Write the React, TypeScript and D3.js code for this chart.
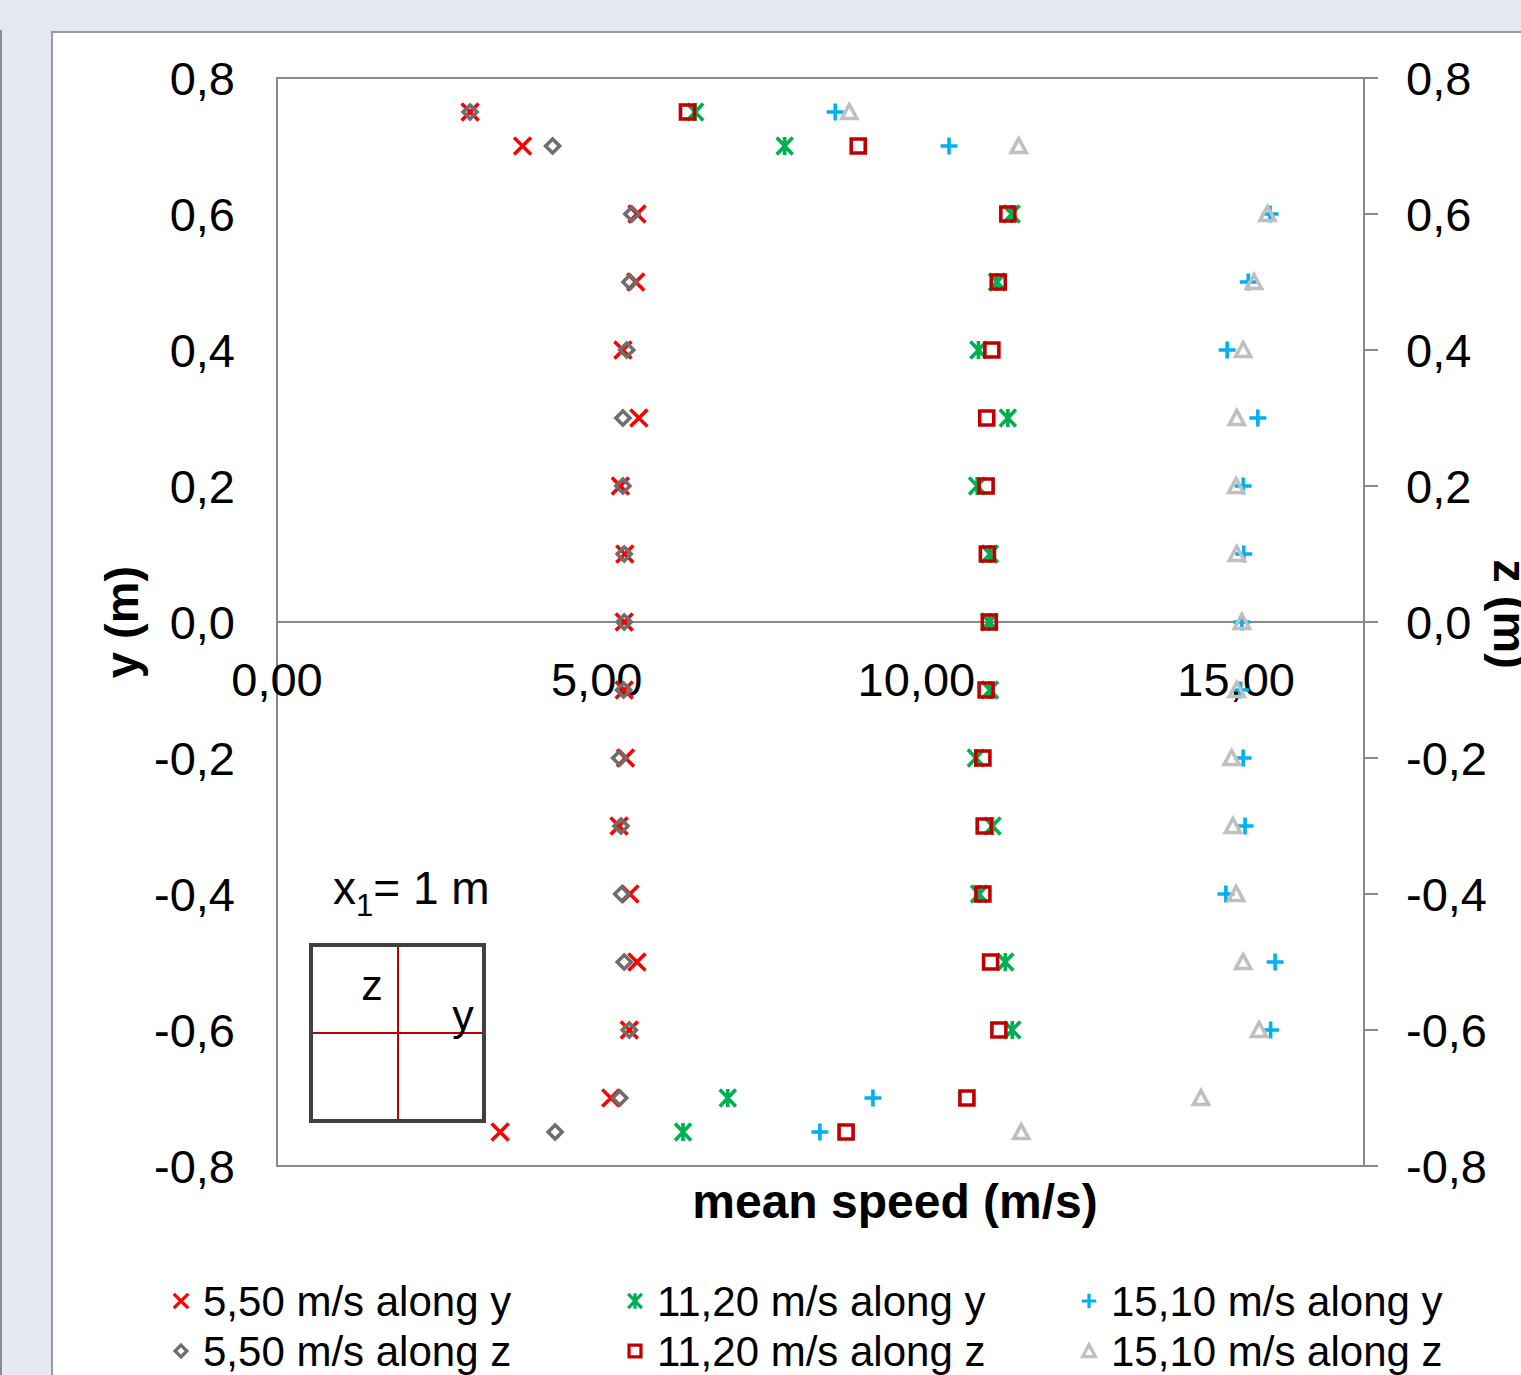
import React, { useEffect, useRef } from 'react';
import * as d3 from 'd3';

// heights of the measuring points (m)
const levels = [0.75, 0.7, 0.6, 0.5, 0.4, 0.3, 0.2, 0.1, 0, -0.1, -0.2, -0.3, -0.4, -0.5, -0.6, -0.7, -0.75];

// mean speed (m/s) at each level
const v550y = [3.02, 3.84, 5.63, 5.61, 5.41, 5.66, 5.37, 5.44, 5.43, 5.43, 5.45, 5.35, 5.52, 5.63, 5.51, 5.22, 3.49];
const v1120y = [6.54, 7.94, 11.49, 11.26, 10.97, 11.43, 10.95, 11.15, 11.14, 11.15, 10.93, 11.19, 10.98, 11.39, 11.5, 7.05, 6.35];
const v1510y = [8.73, 10.51, 15.53, 15.19, 14.86, 15.34, 15.11, 15.12, 15.09, 15.07, 15.11, 15.14, 14.84, 15.61, 15.54, 9.32, 8.49];
const v550z = [3.02, 4.31, 5.55, 5.52, 5.47, 5.41, 5.41, 5.43, 5.43, 5.42, 5.36, 5.38, 5.39, 5.43, 5.51, 5.36, 4.35];
const v1120z = [6.42, 9.09, 11.43, 11.28, 11.18, 11.1, 11.09, 11.11, 11.14, 11.09, 11.04, 11.06, 11.04, 11.16, 11.29, 10.79, 8.9];
const v1510z = [8.95, 11.6, 15.49, 15.28, 15.11, 15.01, 15.0, 15.01, 15.09, 15.01, 14.93, 14.95, 15.0, 15.11, 15.36, 14.45, 11.64];

const xTicks = [0, 5, 10, 15];
const yTicks = [0.8, 0.6, 0.4, 0.2, 0, -0.2, -0.4, -0.6, -0.8];

const seriesNames = [
  '5,50 m/s along y',
  '11,20 m/s along y',
  '15,10 m/s along y',
  '5,50 m/s along z',
  '11,20 m/s along z',
  '15,10 m/s along z',
];

const FONT = "'Liberation Sans', Arial, sans-serif";

const shapes = {
  cross: 'M-8.5,-8.5L8.5,8.5M-8.5,8.5L8.5,-8.5',
  star: 'M-8,-8.5L8,8.5M-8,8.5L8,-8.5M0,-9L0,9',
  plus: 'M-8.5,0L8.5,0M0,-8.5L0,8.5',
  diamond: 'M0,-7L7,0L0,7L-7,0Z',
  square: 'M-7,-7L7,-7L7,7L-7,7Z',
  triangle: 'M0,-7.5L7.5,6.5L-7.5,6.5Z',
};

const series = [
  { name: seriesNames[0], values: v550y, shape: shapes.cross, color: '#ff0000' },
  { name: seriesNames[1], values: v1120y, shape: shapes.star, color: '#00b050' },
  { name: seriesNames[2], values: v1510y, shape: shapes.plus, color: '#00b0f0' },
  { name: seriesNames[3], values: v550z, shape: shapes.diamond, color: '#6e6e6e' },
  { name: seriesNames[4], values: v1120z, shape: shapes.square, color: '#c00000' },
  { name: seriesNames[5], values: v1510z, shape: shapes.triangle, color: '#bfbfbf' },
];

const App = () => {
  const ref = useRef<SVGSVGElement>(null);

  useEffect(() => {
    const svg = d3.select(ref.current);
    svg.selectAll('*').remove();

    const W = 1521;
    const H = 1375;
    const left = 277, right = 1364, top = 78, bottom = 1166;

    const x = d3.scaleLinear().domain([0, 17]).range([left, right]);
    const y = d3.scaleLinear().domain([-0.8, 0.8]).range([bottom, top]);

    const fmtX = (v: number) => v.toFixed(2).replace('.', ',');
    const fmtY = (v: number) => v.toFixed(1).replace('.', ',');

    // page background + chart panel
    svg.append('rect').attr('width', W).attr('height', H).attr('fill', '#e4e8f0');
    svg.append('rect').attr('x', 0).attr('y', 30).attr('width', 2).attr('height', H).attr('fill', '#8c8c8c');
    svg
      .append('rect')
      .attr('x', 52)
      .attr('y', 32)
      .attr('width', W)
      .attr('height', H)
      .attr('fill', '#fff')
      .attr('stroke', '#9a9a9a')
      .attr('stroke-width', 2);

    // plot frame
    svg
      .append('rect')
      .attr('x', left)
      .attr('y', top)
      .attr('width', right - left)
      .attr('height', bottom - top)
      .attr('fill', 'none')
      .attr('stroke', '#898989')
      .attr('stroke-width', 2);

    // horizontal axis through y = 0
    svg
      .append('line')
      .attr('x1', left)
      .attr('x2', right)
      .attr('y1', y(0))
      .attr('y2', y(0))
      .attr('stroke', '#898989')
      .attr('stroke-width', 2);

    // right ticks
    svg
      .selectAll('.rtick')
      .data(yTicks)
      .enter()
      .append('line')
      .attr('x1', right)
      .attr('x2', right + 14)
      .attr('y1', (d) => y(d))
      .attr('y2', (d) => y(d))
      .attr('stroke', '#898989')
      .attr('stroke-width', 2);

    // left tick labels
    svg
      .selectAll('.ylab')
      .data(yTicks)
      .enter()
      .append('text')
      .attr('x', 235)
      .attr('y', (d) => y(d) + 17)
      .attr('text-anchor', 'end')
      .style('font-family', FONT)
      .style('font-size', '47px')
      .text((d) => fmtY(d));

    // right tick labels
    svg
      .selectAll('.ylab2')
      .data(yTicks)
      .enter()
      .append('text')
      .attr('x', 1406)
      .attr('y', (d) => y(d) + 17)
      .style('font-family', FONT)
      .style('font-size', '47px')
      .text((d) => fmtY(d));

    // x tick labels, under the zero line
    svg
      .selectAll('.xlab')
      .data(xTicks)
      .enter()
      .append('text')
      .attr('x', (d) => x(d))
      .attr('y', y(0) + 74)
      .attr('text-anchor', 'middle')
      .style('font-family', FONT)
      .style('font-size', '47px')
      .text((d) => fmtX(d));

    // axis titles
    svg
      .append('text')
      .attr('x', 895)
      .attr('y', 1218)
      .attr('text-anchor', 'middle')
      .style('font-family', FONT)
      .style('font-size', '48px')
      .style('font-weight', 'bold')
      .text('mean speed (m/s)');

    svg
      .append('text')
      .attr('transform', `translate(138,${y(0)}) rotate(-90)`)
      .attr('text-anchor', 'middle')
      .style('font-family', FONT)
      .style('font-size', '47px')
      .style('font-weight', 'bold')
      .text('y (m)');

    svg
      .append('text')
      .attr('transform', `translate(1494,${y(0) - 8}) rotate(90)`)
      .attr('text-anchor', 'middle')
      .style('font-family', FONT)
      .style('font-size', '47px')
      .style('font-weight', 'bold')
      .text('z (m)');

    // inset: measuring section sketch
    const label = svg
      .append('text')
      .attr('x', 333)
      .attr('y', 904)
      .style('font-family', FONT)
      .style('font-size', '46px');
    label.append('tspan').text('x');
    label.append('tspan').attr('dy', 12).style('font-size', '31px').text('1');
    label.append('tspan').attr('dy', -12).text('= 1 m');

    svg
      .append('line')
      .attr('x1', 398)
      .attr('x2', 398)
      .attr('y1', 945)
      .attr('y2', 1121)
      .attr('stroke', '#c00000')
      .attr('stroke-width', 2);
    svg
      .append('line')
      .attr('x1', 311)
      .attr('x2', 484)
      .attr('y1', 1033)
      .attr('y2', 1033)
      .attr('stroke', '#c00000')
      .attr('stroke-width', 2);
    svg
      .append('rect')
      .attr('x', 311)
      .attr('y', 945)
      .attr('width', 173)
      .attr('height', 176)
      .attr('fill', 'none')
      .attr('stroke', '#404040')
      .attr('stroke-width', 4);
    svg
      .append('text')
      .attr('x', 372)
      .attr('y', 1000)
      .attr('text-anchor', 'middle')
      .style('font-family', FONT)
      .style('font-size', '43px')
      .text('z');
    svg
      .append('text')
      .attr('x', 463)
      .attr('y', 1030)
      .attr('text-anchor', 'middle')
      .style('font-family', FONT)
      .style('font-size', '43px')
      .text('y');

    // markers
    series.forEach((s) => {
      svg
        .append('g')
        .selectAll('path')
        .data(s.values)
        .enter()
        .append('path')
        .attr('d', s.shape)
        .attr('transform', (d, i) => `translate(${x(d)},${y(levels[i])})`)
        .attr('fill', 'none')
        .attr('stroke', s.color)
        .attr('stroke-width', 3.6);
    });

    // legend: 3 columns x 2 rows
    const legend = svg
      .append('g')
      .selectAll('g')
      .data(series)
      .enter()
      .append('g')
      .attr('transform', (d, i) => `translate(${181 + (i % 3) * 454},${1301 + Math.floor(i / 3) * 50})`);
    legend
      .append('path')
      .attr('d', (d) => d.shape)
      .attr('transform', 'scale(0.85)')
      .attr('fill', 'none')
      .attr('stroke', (d) => d.color)
      .attr('stroke-width', 3.8);
    legend
      .append('text')
      .attr('x', 22)
      .attr('y', 15)
      .style('font-family', FONT)
      .style('font-size', '42px')
      .text((d) => d.name);
  }, []);

  return (
    <svg
      ref={ref}
      width={1521}
      height={1375}
      style={{ position: 'absolute', left: 0, top: 0 }}
    />
  );
};

export default App;
